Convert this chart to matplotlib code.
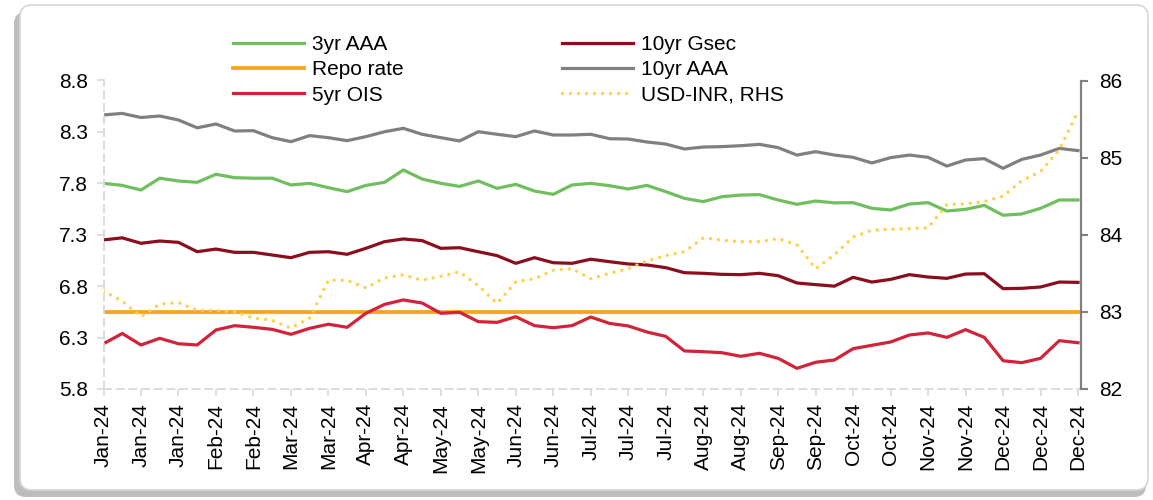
import numpy as np
import pandas as pd
import matplotlib
matplotlib.use("Agg")
import matplotlib.pyplot as plt
import matplotlib.dates as mdates
from matplotlib.patches import FancyBboxPatch
from matplotlib.transforms import IdentityTransform

plt.rcParams['font.family'] = ['Liberation Sans', 'DejaVu Sans']

# ---- data (weekly readings) ----
dates = pd.date_range('2024-01-01', periods=53, freq='7D')

aaa3 = [7.80, 7.78, 7.735, 7.85, 7.823, 7.81, 7.888, 7.855, 7.85, 7.85, 7.784, 7.80, 7.758,
        7.719, 7.78, 7.81, 7.93, 7.842, 7.80, 7.77, 7.823, 7.751, 7.79, 7.725, 7.693, 7.784,
        7.80, 7.777, 7.745, 7.78, 7.719, 7.654, 7.622, 7.67, 7.686, 7.69, 7.638, 7.596, 7.628,
        7.61, 7.612, 7.557, 7.541, 7.599, 7.612, 7.531, 7.547, 7.586, 7.49, 7.502, 7.557, 7.638, 7.638]

gsec10 = [7.25, 7.27, 7.217, 7.239, 7.226, 7.135, 7.161, 7.129, 7.129, 7.103, 7.077, 7.129, 7.135,
          7.11, 7.168, 7.233, 7.259, 7.243, 7.168, 7.174, 7.135, 7.097, 7.022, 7.077, 7.028, 7.022,
          7.062, 7.038, 7.016, 7.006, 6.98, 6.931, 6.925, 6.915, 6.912, 6.925, 6.902, 6.831, 6.815,
          6.80, 6.886, 6.84, 6.866, 6.912, 6.889, 6.876, 6.918, 6.921, 6.776, 6.779, 6.792, 6.84, 6.837]

aaa10 = [8.465, 8.48, 8.44, 8.455, 8.416, 8.34, 8.377, 8.309, 8.312, 8.244, 8.205, 8.264, 8.244,
         8.215, 8.254, 8.302, 8.335, 8.277, 8.244, 8.212, 8.302, 8.277, 8.254, 8.309, 8.27, 8.27,
         8.277, 8.234, 8.231, 8.202, 8.182, 8.134, 8.153, 8.157, 8.166, 8.179, 8.147, 8.075, 8.108,
         8.075, 8.053, 7.998, 8.05, 8.075, 8.053, 7.968, 8.027, 8.04, 7.946, 8.033, 8.075, 8.14, 8.118]

ois5 = [6.24, 6.34, 6.228, 6.293, 6.24, 6.228, 6.374, 6.416, 6.40, 6.38, 6.332, 6.39, 6.43,
        6.40, 6.536, 6.623, 6.666, 6.636, 6.536, 6.546, 6.455, 6.448, 6.503, 6.416, 6.396, 6.416,
        6.50, 6.438, 6.413, 6.354, 6.312, 6.17, 6.163, 6.153, 6.118, 6.147, 6.098, 6.001, 6.06,
        6.082, 6.192, 6.225, 6.257, 6.325, 6.345, 6.302, 6.377, 6.302, 6.075, 6.056, 6.098, 6.27, 6.25]

repo = [6.55] * 53

usdinr = [83.27, 83.14, 82.94, 83.10, 83.12, 83.02, 83.02, 83.00, 82.92, 82.89, 82.79, 82.92, 83.41,
          83.41, 83.31, 83.44, 83.48, 83.41, 83.46, 83.52, 83.34, 83.11, 83.39, 83.43, 83.54, 83.56,
          83.43, 83.50, 83.56, 83.66, 83.73, 83.78, 83.96, 83.93, 83.91, 83.91, 83.95, 83.87, 83.56,
          83.74, 83.97, 84.06, 84.07, 84.08, 84.09, 84.39, 84.40, 84.43, 84.50, 84.70, 84.82, 85.10, 85.60]

tick_dates = pd.date_range('2024-01-01', '2024-12-31', freq='14D')
left_ticks = [5.8, 6.3, 6.8, 7.3, 7.8, 8.3, 8.8]
right_ticks = [82, 83, 84, 85, 86]

# ---- colours ----
c_green = '#70BF5F'
c_orange = '#F7A41C'
c_red = '#D2233A'
c_dred = '#8A0E1E'
c_gray = '#808080'
c_yellow = '#FFD24D'

W, H = 1153, 500
fig = plt.figure(figsize=(W / 100, H / 100), dpi=100)
fig.patch.set_facecolor('white')

# frame with shadow (pixel coords)
shadow = FancyBboxPatch((14, 3), 1132, 485, boxstyle="round,pad=0,rounding_size=12",
                        transform=IdentityTransform(), facecolor='#BDBDBD', edgecolor='none', zorder=-20)
frame = FancyBboxPatch((20, 10), 1128, 485, boxstyle="round,pad=0,rounding_size=12",
                       transform=IdentityTransform(), facecolor='white', edgecolor='#D6D6D6',
                       linewidth=1.2, zorder=-10)
fig.patches.extend([shadow, frame])

ax = fig.add_axes([103.5 / W, 1 - 389 / H, (1080.7 - 103.5) / W, (389 - 80.5) / H])
ax.set_facecolor('none')
ax2 = ax.twinx()

lw = 2.3
l1, = ax.plot(dates, aaa3, color=c_green, lw=lw, label='3yr AAA')
l2, = ax.plot(dates, repo, color=c_orange, lw=lw + 0.4, label='Repo rate')
l3, = ax.plot(dates, ois5, color=c_red, lw=lw, label='5yr OIS')
l4, = ax.plot(dates, gsec10, color=c_dred, lw=lw, label='10yr Gsec')
l5, = ax.plot(dates, aaa10, color=c_gray, lw=lw, label='10yr AAA')
l6, = ax2.plot(dates, usdinr, color=c_yellow, lw=2.5, linestyle=(0, (0.01, 2.3)),
               dash_capstyle='round', label='USD-INR, RHS')

ax.set_ylim(5.8, 8.8)
ax2.set_ylim(82, 86)
ax.set_xlim(pd.Timestamp('2024-01-01'), pd.Timestamp('2024-12-31'))

ax.set_yticks(left_ticks)
ax.set_yticklabels([f'{v:.1f}' for v in left_ticks])
ax2.set_yticks(right_ticks)
ax2.set_yticklabels([str(v) for v in right_ticks])
ax.set_xticks(tick_dates)
ax.xaxis.set_major_formatter(mdates.DateFormatter('%b-%y'))

fs = 15
ax.tick_params(axis='x', labelrotation=90, labelsize=fs, colors='#D9D9D9', labelcolor='black',
               length=5, width=1.2, pad=5)
ax.tick_params(axis='y', labelsize=fs, colors='#D9D9D9', labelcolor='black', length=5, width=1.2, pad=6)
ax2.tick_params(axis='y', labelsize=fs, colors='#808080', labelcolor='black', length=5, width=1.5, pad=8)

for s in ['top', 'right']:
    ax.spines[s].set_visible(False)
for s in ['left', 'bottom']:
    ax.spines[s].set_color('#D9D9D9')
    ax.spines[s].set_linewidth(1.3)
    ax.spines[s].set_linestyle((0, (4, 3)))
for s in ['top', 'left', 'bottom']:
    ax2.spines[s].set_visible(False)
ax2.spines['right'].set_color('#808080')
ax2.spines['right'].set_linewidth(1.6)

fig.legend(handles=[l1, l2, l3, l4, l5, l6], ncol=2, frameon=False, fontsize=fs,
           loc='upper left', bbox_to_anchor=(233 / W, 1 - 35 / H), borderpad=0, borderaxespad=0,
           handlelength=3.4, handletextpad=0.4, columnspacing=7.6, labelspacing=0.3)

fig.savefig('out.png', dpi=100, facecolor='white')
